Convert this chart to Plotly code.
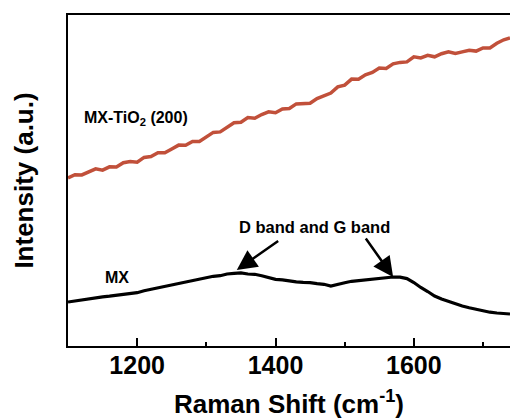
import plotly.graph_objects as go

# Raman shift grid (cm^-1)
shift = [1100, 1110, 1120, 1130, 1140, 1150, 1160, 1170, 1180, 1190,
         1200, 1210, 1220, 1230, 1240, 1250, 1260, 1270, 1280, 1290,
         1300, 1310, 1320, 1330, 1340, 1350, 1360, 1370, 1380, 1390,
         1400, 1410, 1420, 1430, 1440, 1450, 1460, 1470, 1480, 1490,
         1500, 1510, 1520, 1530, 1540, 1550, 1560, 1570, 1580, 1590,
         1600, 1610, 1620, 1630, 1640, 1650, 1660, 1670, 1680, 1690,
         1700, 1710, 1720, 1730, 1739]

# MX-TiO2 (200) intensity (a.u.)
mx_tio2 = [1680, 1713, 1711, 1744, 1772, 1759, 1792, 1790, 1833, 1845,
           1838, 1886, 1895, 1933, 1932, 1971, 2009, 2008, 2046, 2045,
           2095, 2136, 2141, 2182, 2233, 2238, 2284, 2278, 2315, 2342,
           2333, 2370, 2375, 2421, 2421, 2427, 2474, 2506, 2529, 2591,
           2609, 2669, 2668, 2712, 2736, 2780, 2775, 2821, 2836, 2841,
           2892, 2881, 2907, 2892, 2923, 2943, 2925, 2941, 2957, 2949,
           2980, 2981, 3027, 3062, 3080]

# MX intensity (a.u.)
mx = [440, 452, 460, 472, 480, 492, 498, 507, 513, 524,
      533, 552, 566, 584, 596, 612, 623, 644, 653, 672,
      678, 697, 703, 720, 726, 732, 720, 717, 703, 687,
      666, 662, 648, 642, 636, 634, 623, 617, 600, 620,
      633, 647, 653, 667, 670, 677, 678, 690, 688, 674,
      635, 585, 545, 500, 470, 445, 420, 400, 382, 365,
      348, 338, 330, 324, 320]

x_ticks = [1200, 1400, 1600]
x_minor = [1300, 1500, 1700]
x_range = [1100, 1739]
y_range = [0, 3310]

FONT = "Arial, 'Liberation Sans', sans-serif"

fig = go.Figure()
fig.add_trace(go.Scatter(x=shift, y=mx_tio2, mode="lines",
                         line=dict(color="#C1503A", width=3.5), showlegend=False))
fig.add_trace(go.Scatter(x=shift, y=mx, mode="lines",
                         line=dict(color="#000000", width=3.2), showlegend=False))

# labels
fig.add_annotation(x=1198, y=2280, text="<b>MX-TiO<sub>2</sub> (200)</b>", showarrow=False,
                   font=dict(family=FONT, size=16, color="black"))
fig.add_annotation(x=1171, y=690, text="<b>MX</b>", showarrow=False,
                   font=dict(family=FONT, size=16, color="black"))
fig.add_annotation(x=1457, y=1190, text="<b>D band and G band</b>", showarrow=False,
                   font=dict(family=FONT, size=16.5, color="black"))
# arrows
for hx, hy, tx, ty in [(1344, 760, 1406, 1060), (1570, 690, 1529, 1090)]:
    fig.add_annotation(x=hx, y=hy, ax=tx, ay=ty, xref="x", yref="y", axref="x", ayref="y",
                       text="", showarrow=True, arrowhead=2, arrowsize=1.6,
                       arrowwidth=2.5, arrowcolor="black")

fig.update_layout(
    width=510, height=419,
    margin=dict(l=68, r=0, t=15, b=73),
    paper_bgcolor="white", plot_bgcolor="white",
    font=dict(family=FONT, color="black"),
    xaxis=dict(range=x_range, tickvals=x_ticks, ticks="inside", ticklen=8, tickwidth=2,
               tickcolor="black", showline=True, linewidth=2, linecolor="black",
               mirror=True, showgrid=False, zeroline=False,
               tickfont=dict(family=FONT, size=25, color="black", weight="bold"),
               ticklabelstandoff=-4,
               minor=dict(tickvals=x_minor, ticks="inside", ticklen=4,
                          tickwidth=2, tickcolor="black"),
               title=dict(text="<b>Raman Shift (cm<sup>-1</sup>)</b>", standoff=19,
                          font=dict(family=FONT, size=26, color="black"))),
    yaxis=dict(range=y_range, showticklabels=False, ticks="", showline=True, linewidth=2,
               linecolor="black", mirror=False, showgrid=False, zeroline=False,
               title=dict(text="<b>Intensity (a.u.)</b>", standoff=25,
                          font=dict(family=FONT, size=26, color="black"))),
)

fig.write_html("out.html")
